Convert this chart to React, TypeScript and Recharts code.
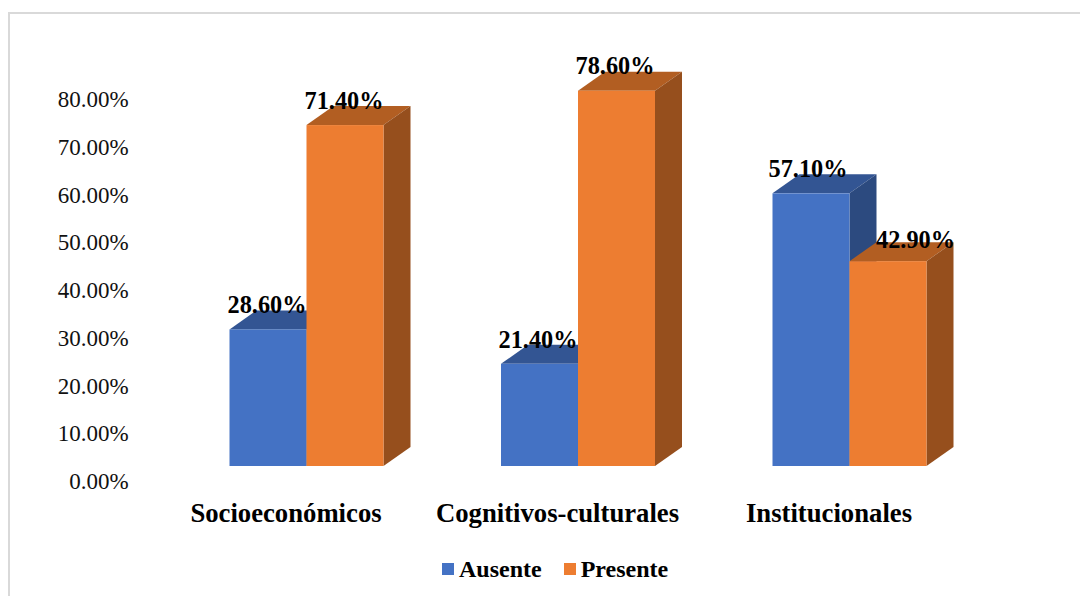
import { BarChart, Bar, XAxis, YAxis, Legend, LabelList } from 'recharts';

const CATEGORIES = ['Socioeconómicos', 'Cognitivos-culturales', 'Institucionales'];
const AUSENTE = [28.6, 21.4, 57.1];
const PRESENTE = [71.4, 78.6, 42.9];
const Y_TICKS = [0, 10, 20, 30, 40, 50, 60, 70, 80];

const FONT = '"Liberation Serif", serif';
const BLUE = { front: '#4472c4', top: '#335593', side: '#2c4a7f' };
const ORANGE = { front: '#ed7d31', top: '#b25e22', side: '#964f1d' };

// floor of the bars sits above the zero tick, like the excel 3d chart
const LIFT = 15;
const DX = 27;
const DY = 19;

// hand placed value labels: [dx, dy] per category
const AUSENTE_NUDGE = [[-1, 0], [-1.5, 0], [-3, 0]];
const PRESENTE_NUDGE = [[-1, 0], [-1.5, -1], [27.5, 3]];

const data = CATEGORIES.map((name, i) => ({
  name,
  Ausente: AUSENTE[i],
  Presente: PRESENTE[i],
}));

const pct = (v: number) => `${v.toFixed(2)}%`;

function box(colors: typeof BLUE) {
  return (props: any) => {
    const { x, width, height } = props;
    const y = props.y - LIFT;
    const r = x + width;
    const b = y + height;
    return (
      <g>
        <polygon points={`${x},${y} ${x + DX},${y - DY} ${r + DX},${y - DY} ${r},${y}`} fill={colors.top} />
        <polygon points={`${r},${y} ${r + DX},${y - DY} ${r + DX},${b - DY} ${r},${b}`} fill={colors.side} />
        <rect x={x} y={y} width={width} height={height} fill={colors.front} />
      </g>
    );
  };
}

function valueLabel(nudges: number[][]) {
  return (props: any) => {
    const { x, y, width, value, index } = props;
    const [dx, dy] = nudges[index] ?? [0, 0];
    return (
      <text
        x={x + width / 2 + dx}
        y={y - 31 + dy}
        textAnchor="middle"
        fontFamily={FONT}
        fontWeight={700}
        fontSize={24.3}
        fill="#000"
      >
        {pct(value)}
      </text>
    );
  };
}

function LegendBox({ payload }: any) {
  return (
    <div style={{ display: 'flex', fontFamily: FONT, fontWeight: 700, fontSize: 24, color: '#000', lineHeight: '28px' }}>
      {(payload ?? []).map((p: any) => (
        <div key={p.value} style={{ display: 'flex', alignItems: 'center', marginRight: 22 }}>
          <span style={{ width: 12, height: 12, background: p.color, marginRight: 5, display: 'inline-block' }} />
          {p.value}
        </div>
      ))}
    </div>
  );
}

export default function App() {
  return (
    <div style={{ position: 'absolute', left: 0, top: 0, width: 1080, height: 596, overflow: 'hidden', background: '#fff' }}>
      <div
        style={{
          position: 'absolute',
          left: 8,
          top: 12,
          width: 1100,
          height: 620,
          border: '2px solid #d9d9d9',
          boxSizing: 'border-box',
        }}
      />
      <div style={{ position: 'absolute', left: 0, top: 0 }}>
        <BarChart
          width={1080}
          height={596}
          data={data}
          margin={{ top: 99, right: 94.75, bottom: 0, left: 0 }}
          barCategoryGap={58.75}
          barGap={0}
        >
          <XAxis
            dataKey="name"
            axisLine={false}
            tickLine={false}
            tickSize={0}
            tickMargin={22}
            interval={0}
            height={87}
            tick={{ fontFamily: FONT, fontWeight: 700, fontSize: 26.7, fill: '#000', dx: -20.5 }}
          />
          <YAxis
            width={170.75}
            domain={[0, 80]}
            ticks={Y_TICKS}
            interval={0}
            tickFormatter={pct}
            axisLine={false}
            tickLine={false}
            tickSize={0}
            tickMargin={42}
            tick={{ fontFamily: FONT, fontSize: 23, fill: '#111' }}
          />
          <Legend
            content={<LegendBox />}
            wrapperStyle={{ position: 'absolute', left: 442, top: 555, width: 300, height: 28 }}
          />
          <Bar dataKey="Ausente" fill={BLUE.front} shape={box(BLUE)} isAnimationActive={false}>
            <LabelList dataKey="Ausente" content={valueLabel(AUSENTE_NUDGE)} />
          </Bar>
          <Bar dataKey="Presente" fill={ORANGE.front} shape={box(ORANGE)} isAnimationActive={false}>
            <LabelList dataKey="Presente" content={valueLabel(PRESENTE_NUDGE)} />
          </Bar>
        </BarChart>
      </div>
    </div>
  );
}
